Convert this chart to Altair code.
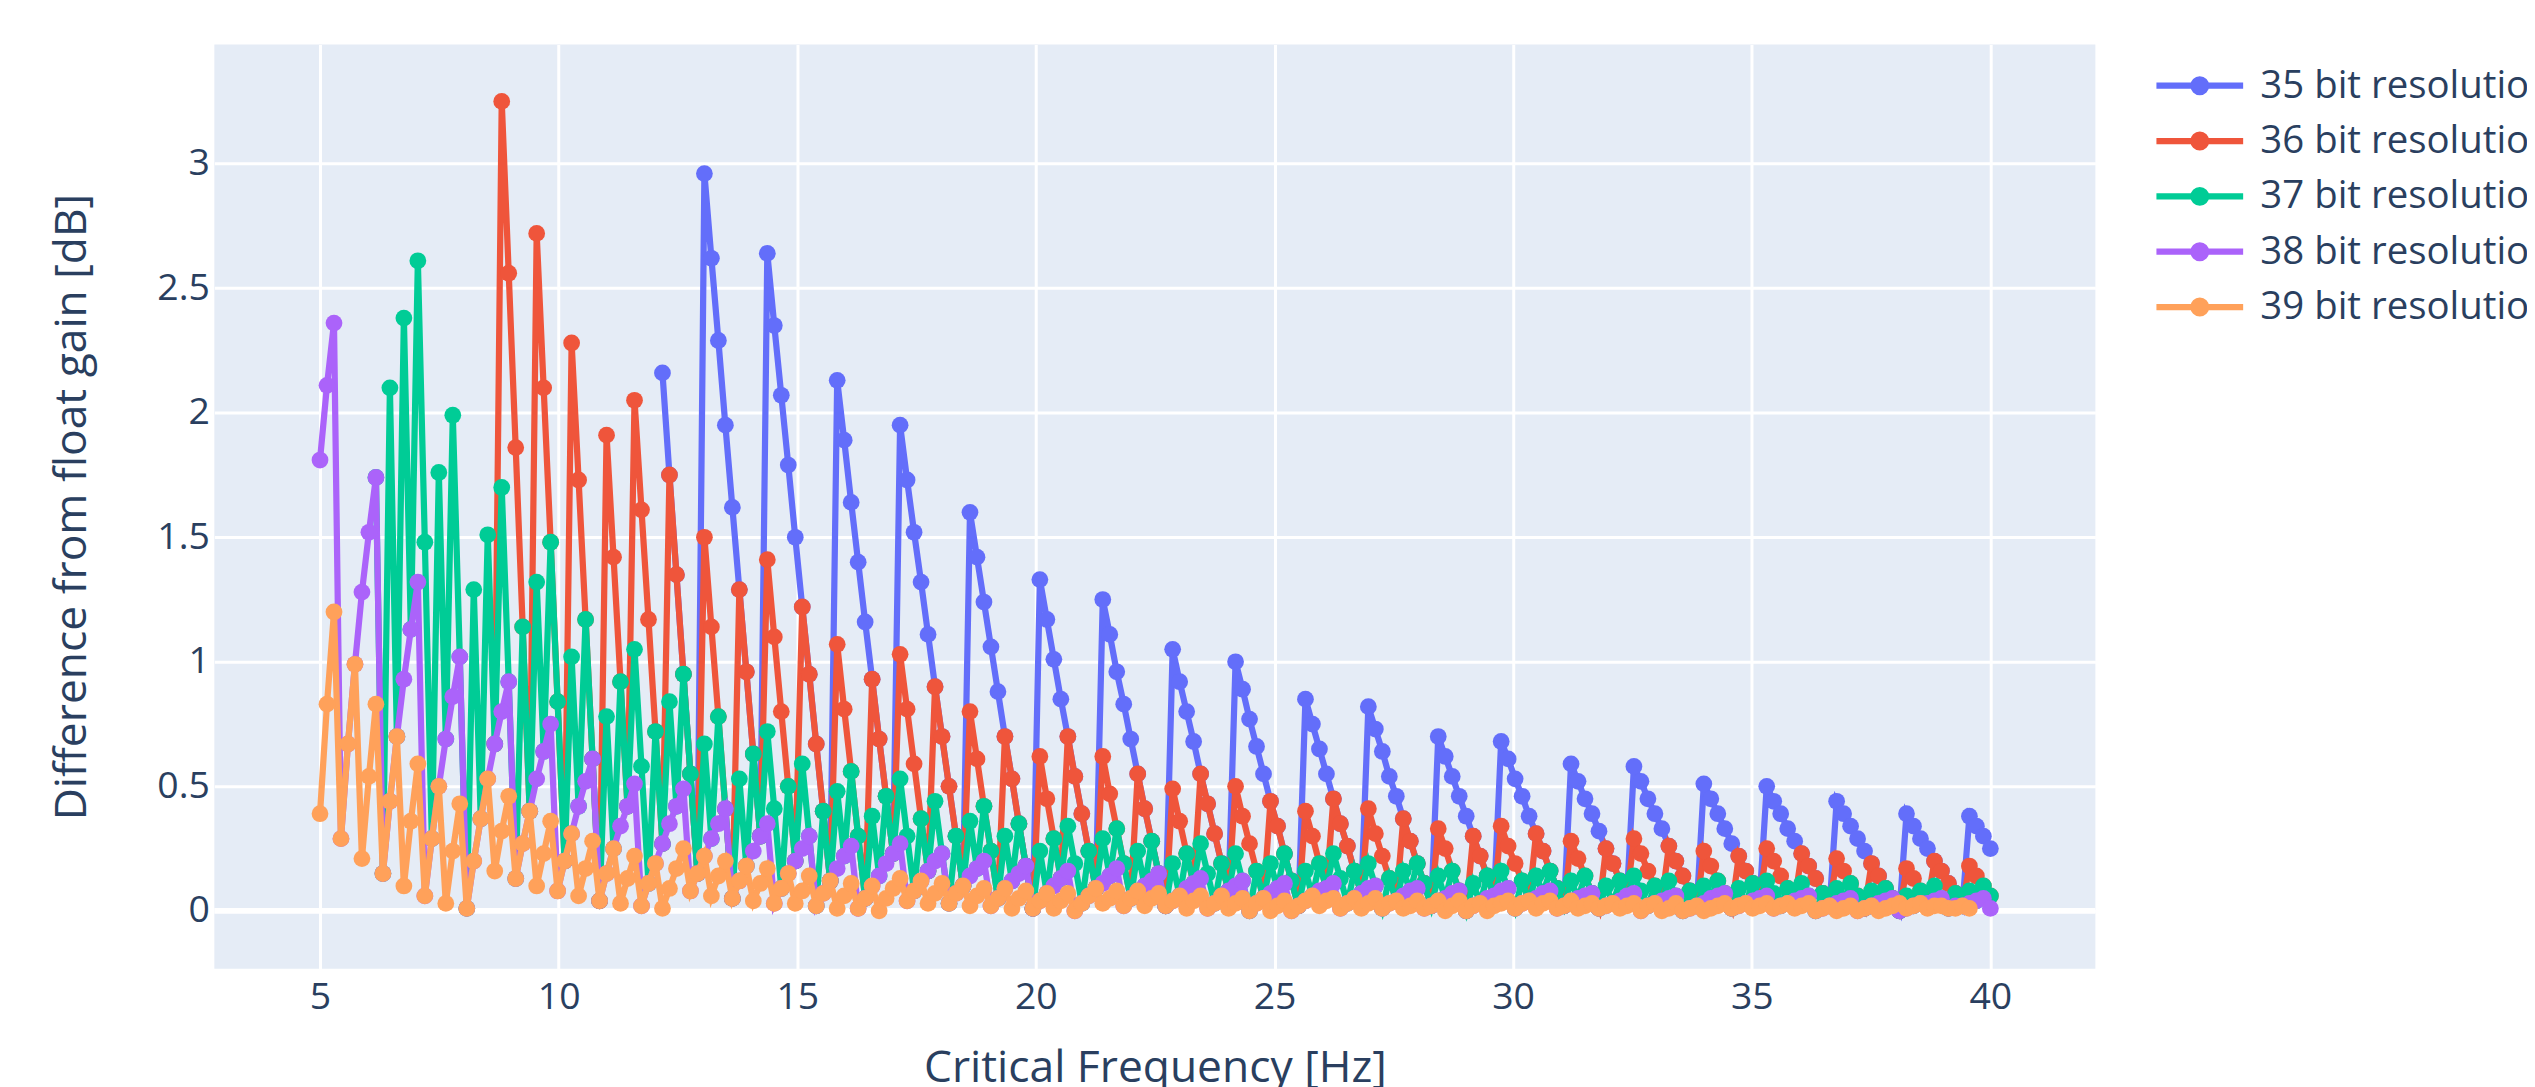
import numpy as np
import pandas as pd
import altair as alt

# Critical frequency sweep: 240 evenly spaced points from 5 Hz to 40 Hz
FREQ = np.linspace(5.0, 40.0, 240)

# Difference from float gain, in hundredths of a dB.
# Each series starts at the sweep index given in FIRST_INDEX.
FIRST_INDEX = {35: 49, 36: 25, 37: 8, 38: 0, 39: 0}

BITS_35 = [
    216, 175, 135, 95, 55, 15, 296, 262, 229, 195, 162, 129, 96, 63, 30, 264, 235, 207, 179, 150,
    122, 95, 67, 40, 12, 213, 189, 164, 140, 116, 93, 69, 46, 23, 195,
    173, 152, 132, 111, 90, 70, 50, 30, 10, 160, 142, 124, 106, 88, 70, 53, 35, 18, 1, 133,
    117, 101, 85, 70, 54, 39, 24, 9, 125, 111, 96, 83, 69, 55, 41,
    28, 15, 2, 105, 92, 80, 68, 55, 43, 31, 19, 8, 100, 89, 77, 66, 55, 44, 34, 23,
    12, 2, 85, 75, 65, 55, 45, 35, 26, 16, 7, 82, 73, 64, 54,
    46, 37, 28, 19, 11, 2, 70, 62, 54, 46, 38, 30, 22, 14, 6, 68, 61, 53, 46, 38,
    31, 24, 16, 9, 2, 59, 52, 45, 39, 32, 25, 19, 12, 6, 58,
    52, 45, 39, 33, 26, 20, 14, 8, 2, 51, 45, 39, 33, 27, 22, 16, 11, 5, 50, 44,
    39, 33, 28, 23, 18, 13, 7, 2, 44, 39, 34, 29, 24, 19, 14,
    9, 5, 0, 39, 34, 29, 25, 20, 16, 11, 7, 2, 38, 34, 30, 25,
]
BITS_36 = [
    67, 325, 256, 186, 114, 40, 272, 210, 148, 84, 20, 228, 173, 117, 61, 4, 191, 142, 92, 42,
    205, 161, 117, 72, 27, 175, 135, 95, 55, 15, 150, 114, 78, 41, 5,
    129, 96, 63, 30, 141, 110, 80, 50, 20, 122, 95, 67, 40, 12, 107, 81, 56, 30, 5, 93,
    69, 46, 23, 103, 81, 59, 37, 16, 90, 70, 50, 30, 10, 80, 61,
    42, 24, 5, 70, 53, 35, 18, 1, 62, 45, 29, 13, 70, 54, 39, 24, 9, 62, 47, 33,
    19, 5, 55, 41, 28, 15, 2, 49, 36, 23, 11, 55, 43, 31, 19,
    8, 50, 38, 27, 16, 5, 44, 34, 23, 12, 2, 40, 30, 19, 9, 45, 35, 26, 16, 7,
    41, 31, 22, 13, 4, 37, 28, 19, 11, 2, 33, 25, 16, 8, 0,
    30, 22, 14, 6, 34, 26, 19, 12, 4, 31, 24, 16, 9, 2, 28, 21, 14, 7, 1, 25,
    19, 12, 6, 29, 23, 16, 10, 4, 26, 20, 14, 8, 2, 24, 18,
    12, 7, 1, 22, 16, 11, 5, 25, 20, 14, 9, 4, 23, 18, 13, 7, 2, 21, 16, 11,
    6, 1, 19, 14, 9, 5, 0, 17, 13, 8, 3, 20, 16, 11, 7,
    2, 18, 14, 10, 6,
]
BITS_37 = [
    174, 15, 210, 70, 238, 113, 261, 148, 29, 176, 69, 199, 102, 1, 129, 37, 151, 67, 170, 92,
    13, 114, 40, 132, 64, 148, 84, 20, 102, 42, 117, 61, 4, 78, 25,
    92, 42, 105, 58, 11, 72, 27, 84, 42, 95, 55, 15, 67, 29, 78, 41, 5, 53, 18, 63,
    30, 72, 41, 9, 50, 20, 59, 30, 2, 40, 12, 48, 22, 56, 30,
    5, 38, 14, 46, 23, 53, 30, 8, 37, 16, 44, 23, 3, 30, 10, 36, 17, 42, 24, 5,
    30, 12, 35, 18, 1, 24, 7, 29, 13, 34, 19, 3, 24, 9, 29,
    14, 33, 19, 5, 24, 10, 28, 15, 2, 19, 6, 23, 11, 27, 15, 3, 19, 8, 23, 12,
    0, 16, 5, 19, 9, 23, 12, 2, 16, 6, 19, 9, 23, 13, 3,
    16, 7, 19, 10, 1, 13, 4, 16, 8, 19, 11, 2, 14, 5, 16, 8, 0, 11, 3, 14,
    6, 16, 9, 1, 12, 4, 14, 7, 16, 9, 2, 12, 5, 14, 7,
    1, 10, 3, 12, 6, 14, 8, 2, 10, 4, 12, 6, 0, 8, 2, 10, 5, 12, 7, 1,
    9, 3, 11, 5, 12, 7, 2, 9, 4, 11, 6, 0, 7, 2, 9,
    4, 11, 6, 1, 8, 3, 9, 5, 0, 6, 2, 8, 3, 10, 5, 1, 7, 2, 8, 4, 10, 6,
]
BITS_38 = [
    181, 211, 236, 29, 67, 99, 128, 152, 174, 15, 44, 70, 93, 113, 132, 6, 29, 50, 69, 86,
    102, 1, 20, 37, 53, 67, 80, 92, 13, 27, 40, 53, 64, 75, 8,
    20, 31, 42, 52, 61, 4, 15, 25, 34, 42, 51, 2, 11, 19, 27, 35, 42, 49, 8, 15,
    22, 29, 35, 41, 5, 12, 18, 24, 30, 35, 3, 9, 15, 20, 25,
    30, 2, 7, 12, 17, 22, 26, 1, 5, 10, 14, 19, 23, 27, 4, 8, 12, 16, 20, 23,
    3, 7, 10, 14, 17, 20, 2, 5, 9, 12, 15, 18, 1, 4, 7,
    10, 13, 16, 0, 3, 6, 9, 11, 14, 17, 2, 5, 8, 10, 12, 15, 2, 4, 6, 9,
    11, 13, 1, 3, 6, 8, 10, 12, 0, 3, 5, 7, 9, 11, 0,
    2, 4, 6, 8, 9, 11, 1, 3, 5, 7, 9, 10, 1, 3, 4, 6, 8, 9, 1, 2,
    4, 5, 7, 8, 0, 2, 3, 5, 6, 8, 9, 1, 3, 4, 5,
    7, 8, 1, 2, 4, 5, 6, 7, 1, 2, 3, 4, 6, 7, 0, 2, 3, 4, 5, 6,
    0, 1, 2, 3, 5, 6, 7, 1, 2, 3, 4, 5, 6, 1, 2,
    3, 4, 5, 6, 0, 1, 2, 3, 4, 5, 0, 1, 2, 3, 4, 5, 0, 1, 2, 3,
    3, 4, 5, 1, 2, 2, 3, 4, 5, 1,
]
BITS_39 = [
    39, 83, 120, 29, 67, 99, 21, 54, 83, 15, 44, 70, 10, 36, 59, 6, 29, 50, 3, 24,
    43, 1, 20, 37, 53, 16, 32, 46, 13, 27, 40, 10, 23, 36, 8,
    20, 31, 6, 17, 28, 4, 15, 25, 3, 13, 22, 2, 11, 19, 1, 9, 17, 25, 8, 15,
    22, 6, 14, 20, 5, 12, 18, 4, 11, 17, 3, 9, 15, 3, 8,
    14, 2, 7, 12, 1, 6, 11, 1, 5, 10, 0, 5, 9, 13, 4, 8, 12, 3, 7, 11,
    3, 7, 10, 2, 6, 9, 2, 5, 9, 1, 5, 8, 1, 4, 7,
    1, 4, 7, 0, 3, 6, 9, 3, 5, 8, 2, 5, 8, 2, 5, 7, 2, 4, 6, 1,
    4, 6, 1, 3, 6, 1, 3, 5, 0, 3, 5, 0, 2, 4, 0,
    2, 4, 6, 2, 4, 5, 1, 3, 5, 1, 3, 5, 1, 3, 4, 1, 2, 4, 1, 2,
    4, 0, 2, 4, 0, 2, 3, 0, 2, 3, 4, 1, 3, 4, 1,
    3, 4, 1, 2, 4, 1, 2, 3, 1, 2, 3, 1, 2, 3, 0, 2, 3, 0, 1, 3,
    0, 1, 2, 0, 1, 2, 3, 1, 2, 3, 1, 2, 3, 1, 2,
    3, 1, 2, 3, 0, 1, 2, 0, 1, 2, 0, 1, 2, 0, 1, 2, 3, 1, 2, 3,
    1, 2, 2, 1, 1, 2, 1,
]
SERIES_VALUES = {35: BITS_35, 36: BITS_36, 37: BITS_37, 38: BITS_38, 39: BITS_39}

NAMES = [f"{n} bit resolution" for n in range(35, 40)]
COLORS = ["#636efa", "#EF553B", "#00cc96", "#ab63fa", "#FFA15A"]
X_TICKS = [5, 10, 15, 20, 25, 30, 35, 40]
Y_TICKS = [0, 0.5, 1, 1.5, 2, 2.5, 3]

rows = []
for n, name in zip(range(35, 40), NAMES):
    st = FIRST_INDEX[n]
    for k, val in enumerate(SERIES_VALUES[n]):
        rows.append({"f": float(FREQ[st + k]), "v": val / 100.0, "series": name})
df = pd.DataFrame(rows)

W, H = 1887, 927
legend = alt.Legend(
    title=None, orient="none", legendX=1972.5, legendY=22,
    symbolType="M-4.35,0L4.35,0M0.6375,0A0.6375,0.6375,0,1,1,-0.6375,0A0.6375,0.6375,0,1,1,0.6375,0Z",
    symbolSize=400, symbolStrokeWidth=6.25, symbolOpacity=1, labelOffset=41.5, labelLimit=2000,
    labelFont="Open Sans", labelFontSize=38.5, labelColor="#2a3f5f", rowPadding=16.5, padding=0,
)
color = alt.Color("series:N", scale=alt.Scale(domain=NAMES, range=COLORS), legend=legend)
xenc = alt.X("f:Q", scale=alt.Scale(domain=[2.786, 42.2], nice=False, zero=False),
             axis=alt.Axis(values=X_TICKS, title="Critical Frequency [Hz]",
                           labelPadding=10, titleY=113, titleBaseline="alphabetic"))
yenc = alt.Y("v:Q", scale=alt.Scale(domain=[-0.232, 3.478], nice=False, zero=False),
             axis=alt.Axis(values=Y_TICKS, format="~g",
                           title="Difference from float gain [dB]", labelPadding=5,
                           titleX=-142, titleY=H / 2, titleAngle=270, titleBaseline="middle",
                           titleAlign="center"))

zero = alt.Chart(pd.DataFrame({"v": [0.0]})).mark_rule(color="white", strokeWidth=6).encode(y=yenc)
layers = [zero]
base = alt.Chart(df).encode(x=xenc, y=yenc, color=color)
for name in NAMES:
    sub = base.transform_filter(alt.datum.series == name)
    layers.append(sub.mark_line(strokeWidth=6.25, opacity=1))
    layers.append(sub.mark_point(filled=True, size=283, opacity=1))

chart = alt.layer(*layers).properties(
    width=W, height=H,
    padding={"left": 207, "top": 35, "right": 433, "bottom": 117},
    autosize=alt.AutoSizeParams(type="none"),
).configure(background="white").configure_view(fill="#E5ECF6", strokeWidth=0).configure_axis(
    domain=False, ticks=False, gridColor="white", gridWidth=3,
    labelFont="Open Sans", labelFontSize=37.5, labelColor="#2a3f5f",
    titleFont="Open Sans", titleFontSize=44.5, titleColor="#2a3f5f", titleFontWeight="normal",
)
chart.save("out.html", embed_options={"renderer": "svg", "actions": False})
